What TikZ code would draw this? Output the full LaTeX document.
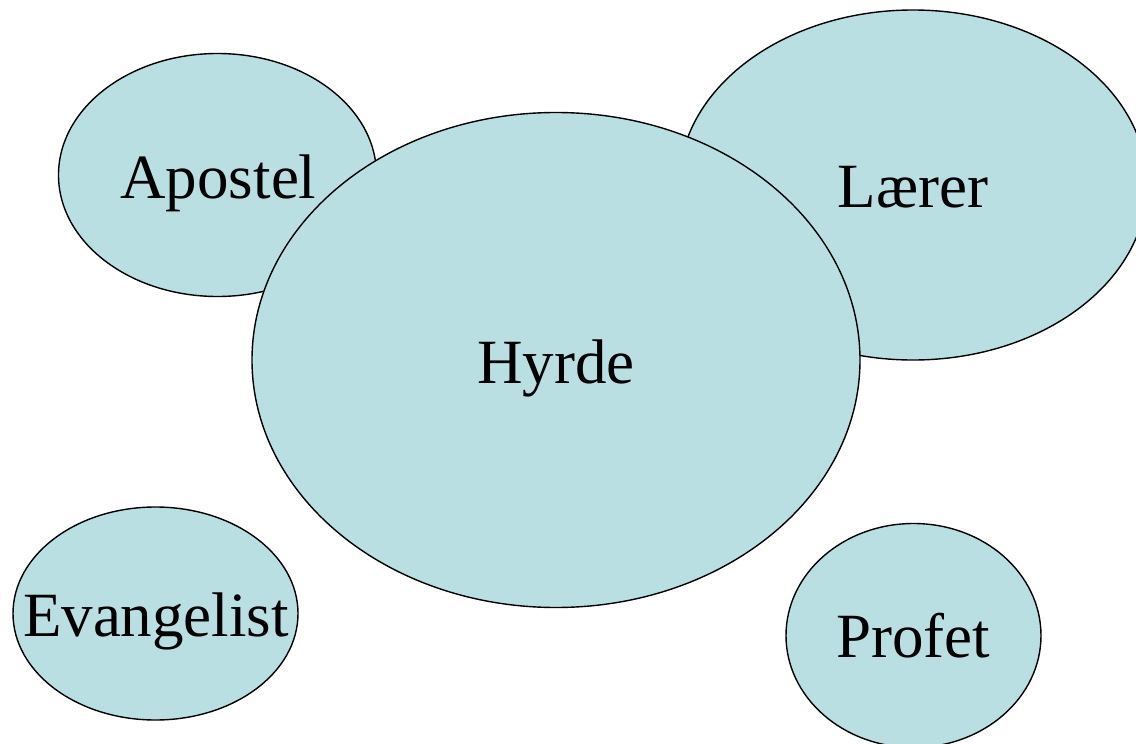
\documentclass[tikz,border=0pt]{standalone}
\usepackage{fontspec}
\setmainfont{Liberation Serif}
\usetikzlibrary{shapes.geometric}
\definecolor{bubble}{RGB}{186,223,227}
\tikzset{
  bubble/.style={ellipse, draw=black, line width=1.4pt, fill=bubble, inner sep=0pt},
  label/.style={anchor=base, inner sep=0pt, font=\fontsize{63}{70}\selectfont}
}
\begin{document}
\begin{tikzpicture}[x=1pt,y=-1pt]
\useasboundingbox (0,0) rectangle (1136,744);
% back bubbles
\node[bubble, minimum width=318pt, minimum height=243pt] (apostel) at (217.5,175) {};
\node[bubble, minimum width=468pt, minimum height=350pt] (laerer) at (913,185) {};
% central bubble
\node[bubble, minimum width=608pt, minimum height=495pt] (hyrde) at (556,360) {};
% separate bubbles
\node[bubble, minimum width=285pt, minimum height=213pt] (evangelist) at (155.5,613.5) {};
\node[bubble, minimum width=255pt, minimum height=224pt] (profet) at (913.5,635.5) {};
% labels
\node[label] (tapostel) at (218.5,198.5) {Apostel};
\node[label] (tlaerer) at (913,207.5) {Lærer};
\node[label] (thyrde) at (556,383) {Hyrde};
\node[label] (tevangelist) at (156,636) {Evangelist};
\node[label] (tprofet) at (913,657) {Profet};
\end{tikzpicture}
\end{document}
